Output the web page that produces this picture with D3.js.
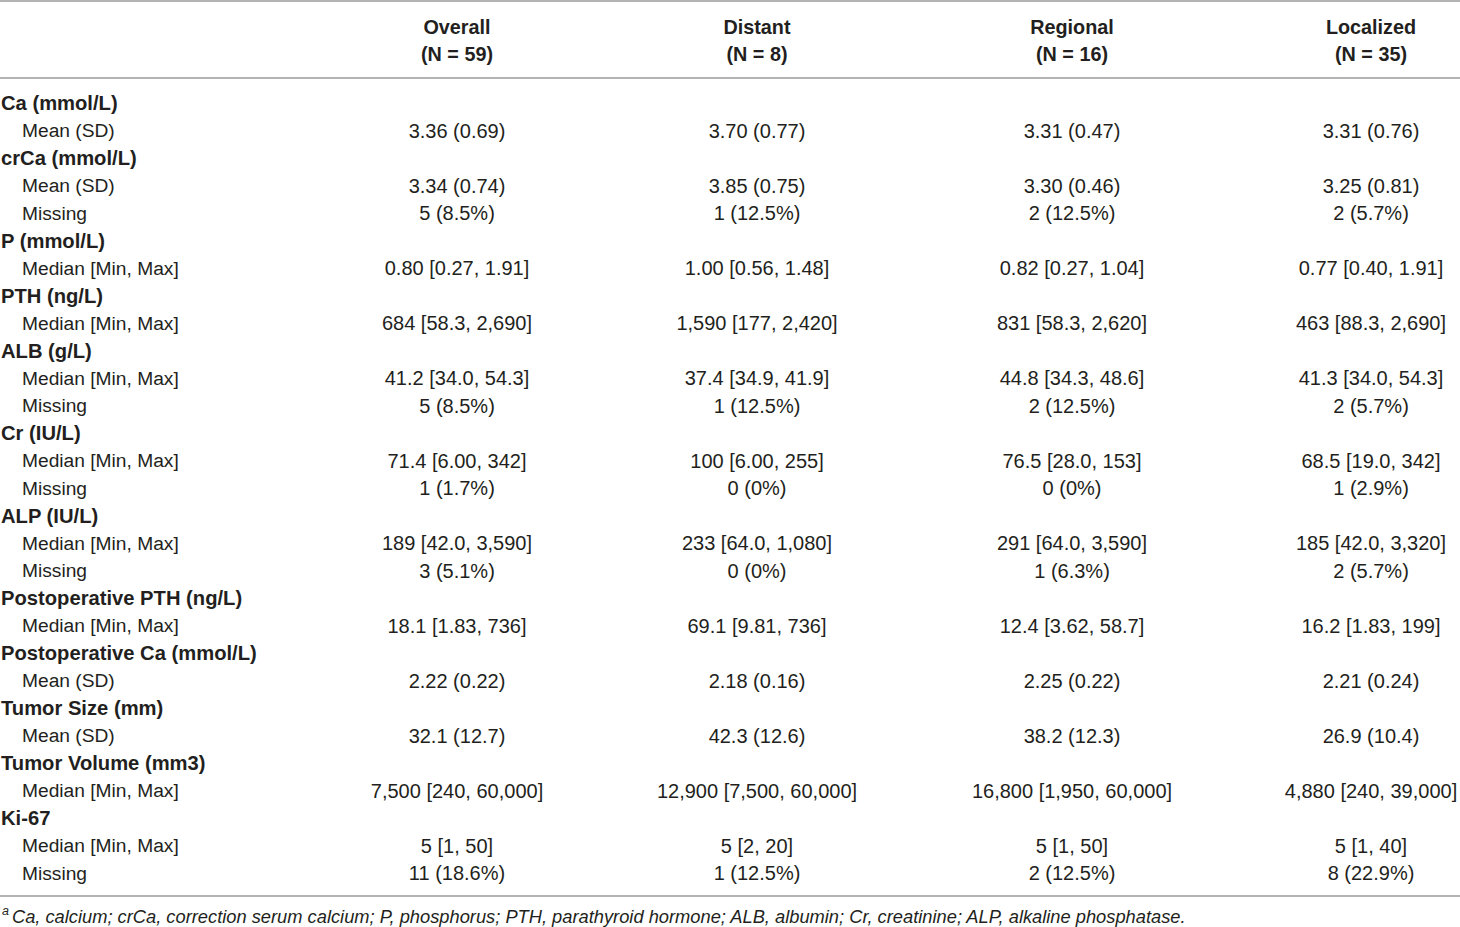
<!DOCTYPE html>
<html>
<head>
<meta charset="utf-8">
<script src="https://cdn.jsdelivr.net/npm/d3@7"></script>
<style>
  body { margin: 0; background: #fff; }
  text { font-family: "Liberation Sans", Arial, sans-serif; fill: #231f20; }
</style>
</head>
<body>
<div id="root"></div>
<script>
// table content
const groups = ['Overall', 'Distant', 'Regional', 'Localized'];
const groupN = [59, 8, 16, 35];

const rowLabels = [
  'Ca (mmol/L)', 'Mean (SD)',
  'crCa (mmol/L)', 'Mean (SD)', 'Missing',
  'P (mmol/L)', 'Median [Min, Max]',
  'PTH (ng/L)', 'Median [Min, Max]',
  'ALB (g/L)', 'Median [Min, Max]', 'Missing',
  'Cr (IU/L)', 'Median [Min, Max]', 'Missing',
  'ALP (IU/L)', 'Median [Min, Max]', 'Missing',
  'Postoperative PTH (ng/L)', 'Median [Min, Max]',
  'Postoperative Ca (mmol/L)', 'Mean (SD)',
  'Tumor Size (mm)', 'Mean (SD)',
  'Tumor Volume (mm3)', 'Median [Min, Max]',
  'Ki-67', 'Median [Min, Max]', 'Missing'
];
// 1 = variable heading (bold), 0 = statistic row
const rowIsHeading = [1,0, 1,0,0, 1,0, 1,0, 1,0,0, 1,0,0, 1,0,0, 1,0, 1,0, 1,0, 1,0, 1,0,0];

const overallValues = [
  '', '3.36 (0.69)',
  '', '3.34 (0.74)', '5 (8.5%)',
  '', '0.80 [0.27, 1.91]',
  '', '684 [58.3, 2,690]',
  '', '41.2 [34.0, 54.3]', '5 (8.5%)',
  '', '71.4 [6.00, 342]', '1 (1.7%)',
  '', '189 [42.0, 3,590]', '3 (5.1%)',
  '', '18.1 [1.83, 736]',
  '', '2.22 (0.22)',
  '', '32.1 (12.7)',
  '', '7,500 [240, 60,000]',
  '', '5 [1, 50]', '11 (18.6%)'
];
const distantValues = [
  '', '3.70 (0.77)',
  '', '3.85 (0.75)', '1 (12.5%)',
  '', '1.00 [0.56, 1.48]',
  '', '1,590 [177, 2,420]',
  '', '37.4 [34.9, 41.9]', '1 (12.5%)',
  '', '100 [6.00, 255]', '0 (0%)',
  '', '233 [64.0, 1,080]', '0 (0%)',
  '', '69.1 [9.81, 736]',
  '', '2.18 (0.16)',
  '', '42.3 (12.6)',
  '', '12,900 [7,500, 60,000]',
  '', '5 [2, 20]', '1 (12.5%)'
];
const regionalValues = [
  '', '3.31 (0.47)',
  '', '3.30 (0.46)', '2 (12.5%)',
  '', '0.82 [0.27, 1.04]',
  '', '831 [58.3, 2,620]',
  '', '44.8 [34.3, 48.6]', '2 (12.5%)',
  '', '76.5 [28.0, 153]', '0 (0%)',
  '', '291 [64.0, 3,590]', '1 (6.3%)',
  '', '12.4 [3.62, 58.7]',
  '', '2.25 (0.22)',
  '', '38.2 (12.3)',
  '', '16,800 [1,950, 60,000]',
  '', '5 [1, 50]', '2 (12.5%)'
];
const localizedValues = [
  '', '3.31 (0.76)',
  '', '3.25 (0.81)', '2 (5.7%)',
  '', '0.77 [0.40, 1.91]',
  '', '463 [88.3, 2,690]',
  '', '41.3 [34.0, 54.3]', '2 (5.7%)',
  '', '68.5 [19.0, 342]', '1 (2.9%)',
  '', '185 [42.0, 3,320]', '2 (5.7%)',
  '', '16.2 [1.83, 199]',
  '', '2.21 (0.24)',
  '', '26.9 (10.4)',
  '', '4,880 [240, 39,000]',
  '', '5 [1, 40]', '8 (22.9%)'
];
const footnote = 'Ca, calcium; crCa, correction serum calcium; P, phosphorus; PTH, parathyroid hormone; ALB, albumin; Cr, creatinine; ALP, alkaline phosphatase.';

const width = 1460, height = 927;
const columns = [overallValues, distantValues, regionalValues, localizedValues];

const svg = d3.select('#root').append('svg')
  .attr('width', width)
  .attr('height', height)
  .attr('viewBox', [0, 0, width, height]);

// column centres and row positions
const x = d3.scaleOrdinal().domain(groups).range([457, 757, 1072, 1371]);
const y = d3.scalePoint().domain(d3.range(rowLabels.length)).range([103, 873]);

// rules
const rules = [1, 78, 896];
svg.selectAll('line.rule')
  .data(rules)
  .join('line')
  .attr('class', 'rule')
  .attr('x1', 0).attr('x2', width)
  .attr('y1', d => d).attr('y2', d => d)
  .attr('stroke', '#9a9a9a')
  .attr('stroke-width', 1.6);

// header
const header = svg.selectAll('g.head')
  .data(groups)
  .join('g')
  .attr('class', 'head')
  .attr('transform', d => `translate(${x(d)},0)`);

header.append('text')
  .attr('y', 27)
  .attr('text-anchor', 'middle')
  .attr('dominant-baseline', 'central')
  .attr('font-size', 19.8)
  .attr('font-weight', 'bold')
  .text(d => d);

header.append('text')
  .attr('y', 54)
  .attr('text-anchor', 'middle')
  .attr('dominant-baseline', 'central')
  .attr('font-size', 19.8)
  .attr('font-weight', 'bold')
  .text((d, i) => `(N = ${groupN[i]})`);

// row labels
svg.selectAll('text.label')
  .data(rowLabels)
  .join('text')
  .attr('class', 'label')
  .attr('x', (d, i) => rowIsHeading[i] ? 1 : 22)
  .attr('y', (d, i) => y(i))
  .attr('dominant-baseline', 'central')
  .attr('font-size', (d, i) => rowIsHeading[i] ? 20.2 : 19.2)
  .attr('font-weight', (d, i) => rowIsHeading[i] ? 'bold' : 'normal')
  .text(d => d);

// cell values
columns.forEach((values, c) => {
  svg.append('g')
    .selectAll('text')
    .data(values)
    .join('text')
    .attr('x', x(groups[c]))
    .attr('y', (d, i) => y(i))
    .attr('text-anchor', 'middle')
    .attr('dominant-baseline', 'central')
    .attr('font-size', 20)
    .text(d => d);
});

// footnote
const note = svg.append('text')
  .attr('x', 2)
  .attr('y', 916)
  .attr('dominant-baseline', 'central')
  .attr('font-size', 18.3)
  .attr('font-style', 'italic');
note.append('tspan')
  .attr('font-size', 12.5)
  .attr('dy', -5)
  .text('a');
note.append('tspan')
  .attr('dy', 5)
  .attr('dx', 3)
  .text(footnote);
</script>
</body>
</html>
